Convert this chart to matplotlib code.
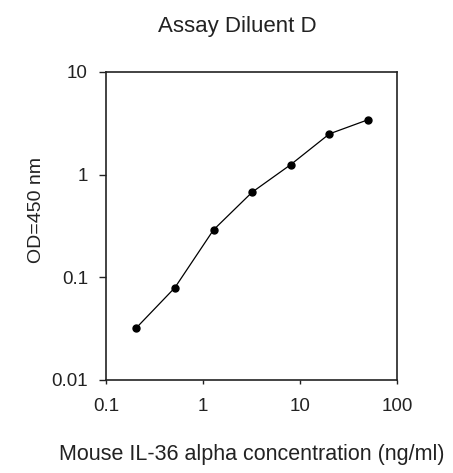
import numpy as np
import matplotlib.pyplot as plt

plt.rcParams['font.family'] = ['Liberation Sans', 'DejaVu Sans']

# standard curve (2.5-fold dilutions)
conc = [0.2048, 0.512, 1.28, 3.2, 8, 20, 50]
od = [0.032, 0.079, 0.289, 0.673, 1.25, 2.49, 3.42]

x_ticks = [0.1, 1, 10, 100]
x_labels = ["0.1", "1", "10", "100"]
y_ticks = [0.01, 0.1, 1, 10]
y_labels = ["0.01", "0.1", "1", "10"]

fig = plt.figure(figsize=(4.53, 4.73), dpi=100)
ax = fig.add_axes([0.234, 0.197, 0.643, 0.651])

ax.plot(conc, od, color="black", linewidth=0.9, marker="o", markersize=5)

ax.set_xscale("log")
ax.set_yscale("log")
ax.set_xlim(0.1, 100)
ax.set_ylim(0.01, 10)
ax.set_xticks(x_ticks)
ax.set_xticklabels(x_labels)
ax.set_yticks(y_ticks)
ax.set_yticklabels(y_labels)
ax.minorticks_off()
ax.tick_params(axis="x", direction="out", length=3, width=1, labelsize=13.5, pad=10, colors="#222222")
ax.tick_params(axis="y", direction="out", length=5, width=1, labelsize=13.5, pad=8, colors="#222222")
for s in ax.spines.values():
    s.set_linewidth(1.2)
    s.set_color("#222222")

ax.set_title("Assay Diluent D", fontsize=16, pad=29, color="#222222", x=0.45)
ax.set_xlabel("Mouse IL-36 alpha concentration (ng/ml)", fontsize=15.5, labelpad=21, color="#222222")
ax.set_ylabel("OD=450 nm", fontsize=14, color="#222222")
ax.yaxis.set_label_coords(-0.21, 0.55)

fig.savefig("out.png", dpi=100)
plt.close()
